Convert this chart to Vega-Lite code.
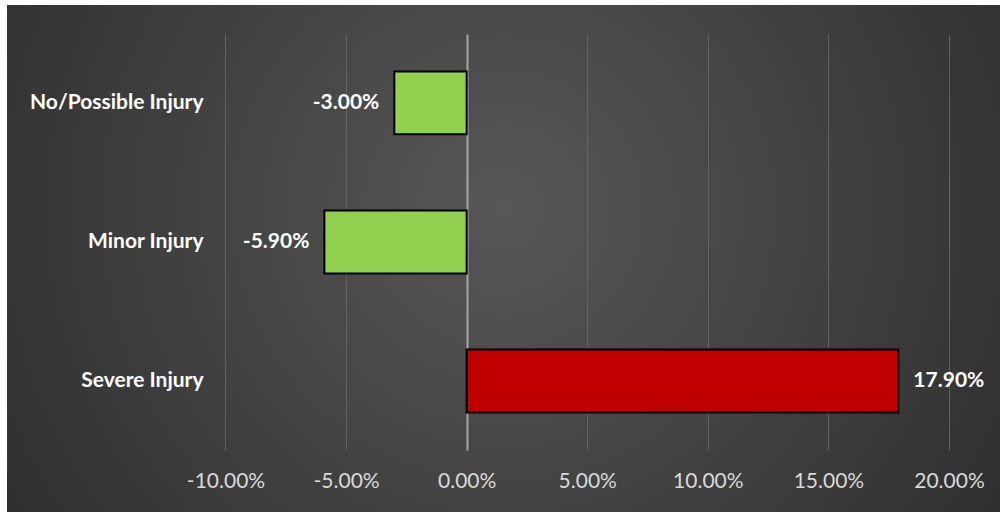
{
  "$schema": "https://vega.github.io/schema/vega-lite/v6.json",
  "width": 993,
  "height": 507,
  "autosize": "none",
  "padding": {"left": 7, "top": 5, "right": 2, "bottom": 0},
  "background": "white",
  "config": {
    "locale": {
      "number": {"decimal": ".", "thousands": ",", "grouping": [3], "currency": ["$", ""], "minus": "-"}
    }
  },
  "view": {
    "stroke": null,
    "fill": {
      "gradient": "radial",
      "x1": 0.5, "y1": 0.45, "r1": 0,
      "x2": 0.5, "y2": 0.45, "r2": 0.72,
      "stops": [
        {"offset": 0, "color": "#575757"},
        {"offset": 1, "color": "#262626"}
      ]
    }
  },
  "data": {
    "values": [
      {"category": "No/Possible Injury", "change": -0.03},
      {"category": "Minor Injury", "change": -0.059},
      {"category": "Severe Injury", "change": 0.179}
    ]
  },
  "encoding": {
    "y": {
      "field": "category",
      "type": "nominal",
      "sort": null,
      "scale": {"paddingInner": 0.547, "paddingOuter": 0.597, "align": 0.4},
      "axis": {
        "title": null,
        "orient": "left",
        "offset": -198,
        "domain": false,
        "ticks": false,
        "grid": false,
        "labelPadding": 2,
        "labelFont": "Lato",
        "labelFontSize": 21,
        "labelFontWeight": "bold",
        "labelColor": "#ffffff",
        "labelLimit": 300
      }
    },
    "x": {
      "field": "change",
      "type": "quantitative",
      "scale": {"domain": [-0.1906, 0.22115], "nice": false, "zero": false},
      "axis": {
        "title": null,
        "orient": "bottom",
        "offset": -62,
        "values": [-0.1, -0.05, 0, 0.05, 0.1, 0.15, 0.2],
        "format": ".2%",
        "domain": false,
        "grid": false,
        "ticks": true,
        "tickSize": -416,
        "tickColor": {"condition": {"test": "datum.value === 0", "value": "#a6a6a6"}, "value": "#626262"},
        "tickWidth": {"condition": {"test": "datum.value === 0", "value": 2}, "value": 1},
        "labelPadding": 436,
        "labelFont": "Lato",
        "labelFontSize": 21,
        "labelColor": "#d9d9d9"
      }
    }
  },
  "layer": [
    {
      "mark": {"type": "bar", "stroke": "#000000", "strokeWidth": 2},
      "encoding": {
        "color": {
          "field": "category",
          "type": "nominal",
          "scale": {
            "domain": ["No/Possible Injury", "Minor Injury", "Severe Injury"],
            "range": ["#92D050", "#92D050", "#C00000"]
          },
          "legend": null
        }
      }
    },
    {
      "transform": [{"filter": "datum.change < 0"}],
      "mark": {"type": "text", "align": "right", "baseline": "middle", "dx": -15, "font": "Lato", "fontSize": 21, "fontWeight": "bold", "color": "#ffffff"},
      "encoding": {"text": {"field": "change", "type": "quantitative", "format": ".2%"}}
    },
    {
      "transform": [{"filter": "datum.change >= 0"}],
      "mark": {"type": "text", "align": "left", "baseline": "middle", "dx": 15, "font": "Lato", "fontSize": 21, "fontWeight": "bold", "color": "#ffffff"},
      "encoding": {"text": {"field": "change", "type": "quantitative", "format": ".2%"}}
    }
  ]
}
